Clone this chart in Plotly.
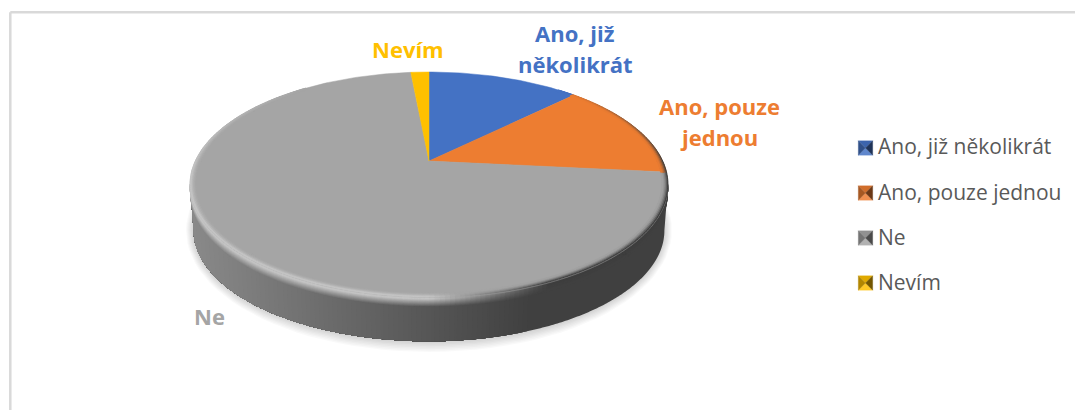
import math
import plotly.graph_objects as go

categories = ["Ano, již několikrát", "Ano, pouze jednou", "Ne", "Nevím"]
values = [12.6, 14.0, 71.9, 1.5]
colors = ["#4472C4", "#ED7D31", "#A5A5A5", "#FFC000"]
label_lines = [["Ano, již", "několikrát"], ["Ano, pouze", "jednou"], ["Ne"], ["Nevím"]]
label_anchor = [(575, 33), (719, 106), (209, 316), (408, 49)]

W, H = 1075, 410
CX, AY, R, RV, K = 429, 161, 233.7, 107.6, 0.209
DEPTH = 46
FONT = "Open Sans"


def top(theta, f=1.0):
    s = 1 / (1 + K * f * math.cos(theta))
    return CX + R * f * math.sin(theta) * s, AY - RV * f * math.cos(theta) * s


def down(theta, d):
    x, y = top(theta)
    sc = 1 - 0.015 * d / DEPTH
    return CX + (x - CX) * sc, y + d + (1 - sc) * (186 - y)


def mix(a, b, t):
    return tuple(a[i] + (b[i] - a[i]) * t for i in range(3))


def rgb(c):
    return tuple(int(c[i:i + 2], 16) for i in (1, 3, 5))


def side_grey(x):
    u = (x - 190) / 478
    if u < 0.72:
        return 138 - (138 - 64) * (u / 0.72)
    return 64


def edge_light(u):
    if u < 0.5:
        return 196
    return max(62, 196 - (u - 0.5) / 0.25 * 134)


def add_buckets(fig, buckets):
    for key in sorted(buckets):
        xs, ys = buckets[key]
        col = f"rgb({key[0]},{key[1]},{key[2]})"
        fig.add_trace(go.Scatter(x=xs, y=ys, mode="lines", fill="toself", fillcolor=col,
                                 line=dict(width=0.8, color=col, simplify=False),
                                 hoverinfo="skip", showlegend=False))


def quad(buckets, pts, col, q=1):
    key = tuple(int(round(c / q) * q) for c in col)
    b = buckets.setdefault(key, ([], []))
    for p in pts + [pts[0]]:
        b[0].append(p[0])
        b[1].append(p[1])
    b[0].append(None)
    b[1].append(None)


fig = go.Figure()

# soft shadow under the disk
for g in [11, 9.5, 8, 6.5, 5, 3.5, 2]:
    xs, ys = [], []
    for a in range(0, 361, 3):
        x, y = down(math.radians(a), DEPTH)
        xs.append(CX + (x - CX) * (1 + g * 0.7 / 239))
        ys.append(232 + (y - 232) * (1 + g / 112))
    fig.add_trace(go.Scatter(x=xs, y=ys, mode="lines", fill="toself", line_width=0,
                             fillcolor="rgba(0,0,0,0.022)", hoverinfo="skip", showlegend=False))

# slice lookup
cum = []
acc = 0
total = sum(values)
for v in values:
    start = acc
    acc += v
    cum.append((start / total * 2 * math.pi, acc / total * 2 * math.pi))


def slice_rgb(th):
    th = th % (2 * math.pi)
    for (a, b), c in zip(cum, colors):
        if a <= th < b:
            return rgb(c)
    return rgb(colors[-1])


# side wall: layered from the dark right end to the lighter left, so no seams show
A0, A1 = 102, 258
deg = A0
for level in range(64, 139):
    while deg < A1 and side_grey(top(math.radians(deg))[0]) < level:
        deg += 0.5
    arc = [math.radians(deg + i * 0.5) for i in range(int((A1 - deg) * 2) + 1)]
    if len(arc) < 2:
        break
    pts = [down(t, 0) for t in arc] + [down(t, DEPTH) for t in reversed(arc)]
    col = f"rgb({level},{level},{level})"
    fig.add_trace(go.Scatter(x=[p[0] for p in pts] + [pts[0][0]], y=[p[1] for p in pts] + [pts[0][1]],
                             mode="lines", fill="toself", fillcolor=col,
                             line=dict(width=0, simplify=False), hoverinfo="skip", showlegend=False))

# rounded top edge of the wall
edge = {}
rows = [0, 1, 2, 3, 4, 5, 6, 7, 8, 9, 10]
for a in range(A0, A1, 1):
    t0, t1 = math.radians(a), math.radians(a + 1)
    xm = top((t0 + t1) / 2)[0]
    g = side_grey(xm)
    u = (xm - 190) / 478
    hl = edge_light(u)
    for r in range(len(rows) - 1):
        d0, d1 = rows[r], rows[r + 1]
        c = 165 + (hl - 165) * (d1 / 2) if d1 <= 2 else hl + (g - hl) * ((d1 - 2) / 8)
        quad(edge, [down(t0, d0), down(t1, d0), down(t1, d1), down(t0, d1)], (c, c, c))
add_buckets(fig, edge)

# top face slices drawn from the values
for (a, b), cat, col in zip(cum, categories, colors):
    n = max(int(math.degrees(b - a)), 4)
    xs, ys = [CX], [AY]
    for i in range(n + 1):
        x, y = top(a + (b - a) * i / n)
        xs.append(x)
        ys.append(y)
    xs.append(CX)
    ys.append(AY)
    fig.add_trace(go.Scatter(x=xs, y=ys, mode="lines", fill="toself", fillcolor=col,
                             line=dict(width=0.5, color=col), name=cat, text=cat,
                             hoverinfo="text", showlegend=False))

# bevel ring on the rim of the top face
rim = {}
rings = [0.975, 0.98, 0.985, 0.99, 0.995, 1.0]
for a in range(40, 322, 1):
    t0, t1 = math.radians(a), math.radians(a + 1)
    tm = (t0 + t1) / 2
    xm = top(tm)[0]
    base = slice_rgb(tm)
    u = (xm - 190) / 478
    fade = min(1, max(0, (a - 40) / 50)) * min(1, max(0, (322 - a) / 60))
    e = edge_light(u)
    for r in range(len(rings) - 1):
        t = fade * ((r + 1) / (len(rings) - 1)) ** 2
        c = mix(base, (e, e, e), t)
        quad(rim, [top(t0, rings[r]), top(t1, rings[r]), top(t1, rings[r + 1]), top(t0, rings[r + 1])], c)
add_buckets(fig, rim)

# legend swatches: bevelled squares beside the legend texts
SW_X, SW_Y0, SW_DY, SW_H = 865.5, 148, 45, 7.2
for i, (cat, col) in enumerate(zip(categories, colors)):
    base = rgb(col)
    cy = SW_Y0 + i * SW_DY
    c = (SW_X, cy)
    tl, tr = (SW_X - SW_H, cy - SW_H), (SW_X + SW_H, cy - SW_H)
    bl, br = (SW_X - SW_H, cy + SW_H), (SW_X + SW_H, cy + SW_H)
    facets = [((tl, tr, c), mix(base, (0, 0, 0), 0.12)),
              ((bl, br, c), mix(base, (255, 255, 255), 0.15)),
              ((tl, bl, c), mix(base, (0, 0, 0), 0.3)),
              ((tr, br, c), mix(base, (0, 0, 0), 0.55))]
    for pts, fc in facets:
        fs = f"rgb({fc[0]:.0f},{fc[1]:.0f},{fc[2]:.0f})"
        fig.add_trace(go.Scatter(x=[p[0] for p in pts] + [pts[0][0]], y=[p[1] for p in pts] + [pts[0][1]],
                                 mode="lines", fill="toself", fillcolor=fs, line=dict(width=0.3, color=fs),
                                 hoverinfo="skip", showlegend=False))

# legend entries
for i, (cat, col) in enumerate(zip(categories, colors)):
    fig.add_trace(go.Scatter(
        x=[None], y=[None], mode="markers", name=cat, legendgroup=cat,
        marker=dict(symbol="square", size=14, color="rgba(0,0,0,0)", line_width=0)))

# data labels
for lines, (ax, ay), col in zip(label_lines, label_anchor, colors):
    for j, line in enumerate(lines):
        fig.add_annotation(x=ax, y=ay + j * 31, text=f"<b>{line}</b>", showarrow=False,
                           font=dict(family=FONT, size=22, color=col), xanchor="center", yanchor="middle")

# chart frame
fig.add_shape(type="line", x0=10.3, x1=1075, y0=12.3, y1=12.3, line=dict(color="#D9D9D9", width=2.5))
fig.add_shape(type="line", x0=10.3, x1=10.3, y0=12.3, y1=410, line=dict(color="#D9D9D9", width=2.5))

fig.update_layout(
    width=W, height=H, margin=dict(l=0, r=0, t=0, b=0), autosize=False,
    paper_bgcolor="white", plot_bgcolor="white",
    xaxis=dict(range=[0, W], visible=False, fixedrange=True),
    yaxis=dict(range=[H, 0], visible=False, fixedrange=True),
    legend=dict(x=838 / W, y=1 - 126 / H, xanchor="left", yanchor="top", tracegroupgap=15,
                font=dict(family=FONT, size=21, color="#595959"), bgcolor="rgba(0,0,0,0)"),
)
fig.write_html("out.html", config={"displayModeBar": False},
               post_script="document.body.style.margin='0';")
